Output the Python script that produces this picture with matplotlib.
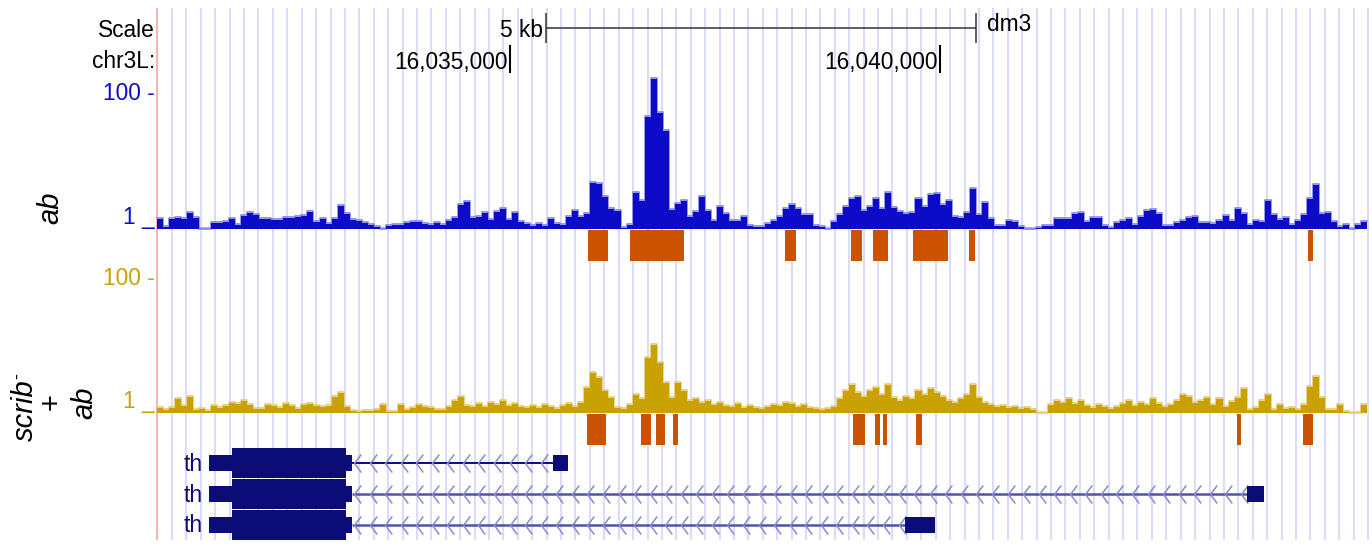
import numpy as np
import matplotlib
matplotlib.use('Agg')
import matplotlib.pyplot as plt

plt.rcParams['font.family'] = ['Liberation Sans', 'DejaVu Sans']

# dm3 chr3L window, 5 kb = 430 px in the browser image
bp_per_px = 5000 / 430
win_start = 16035000 - 510 * bp_per_px
win_end = win_start + 1372 * bp_per_px

ruler_ticks = [16035000, 16040000]
scale_bar = [16035419, 16040419]

# coverage tracks, fixed bins of 70 bp (display height, 0 = no data)
bin_start = 16030895
bin_bp = 70
ab_signal = [
    10, 2, 10, 11, 10, 16, 11, 0, 0, 6,
    6, 7, 10, 4, 13, 16, 14, 10, 10, 9,
    9, 11, 11, 12, 13, 17, 7, 10, 5, 10,
    23, 15, 9, 8, 6, 4, 2, 0, 3, 4,
    4, 6, 7, 7, 5, 4, 6, 4, 8, 11,
    24, 27, 11, 12, 16, 9, 17, 20, 9, 16,
    7, 5, 3, 5, 3, 10, 5, 4, 12, 18,
    12, 15, 46, 45, 32, 20, 18, 1, 4, 36,
    28, 112, 150, 116, 98, 19, 25, 28, 12, 17,
    32, 18, 8, 22, 15, 8, 8, 12, 3, 2,
    2, 5, 8, 12, 20, 24, 20, 14, 14, 3,
    2, 0, 7, 14, 22, 30, 32, 18, 22, 30,
    20, 36, 21, 17, 15, 16, 30, 22, 34, 35,
    24, 28, 12, 11, 16, 40, 14, 26, 10, 3,
    3, 8, 7, 2, 0, 0, 1, 3, 3, 10,
    10, 10, 15, 16, 7, 11, 11, 3, 1, 6,
    8, 10, 4, 12, 18, 19, 15, 3, 3, 6,
    8, 11, 12, 6, 6, 5, 8, 13, 8, 20,
    15, 4, 8, 7, 28, 14, 9, 11, 4, 8,
    14, 30, 44, 15, 16, 7, 2, 4, 0, 4,
    7,
]
scrib_ab_signal = [
    5, 3, 5, 14, 7, 16, 3, 4, 2, 7,
    5, 7, 10, 9, 12, 8, 4, 4, 8, 7,
    5, 9, 7, 4, 8, 9, 7, 6, 7, 16,
    20, 6, 2, 1, 2, 2, 3, 8, 1, 1,
    8, 3, 5, 8, 6, 5, 3, 3, 6, 12,
    16, 7, 6, 9, 6, 10, 8, 12, 7, 9,
    6, 5, 7, 5, 8, 6, 4, 7, 9, 6,
    10, 25, 40, 35, 22, 15, 5, 4, 8, 18,
    14, 55, 68, 50, 30, 15, 30, 22, 12, 14,
    10, 12, 8, 10, 7, 6, 9, 5, 7, 5,
    4, 6, 8, 7, 10, 9, 6, 8, 5, 4,
    3, 4, 6, 14, 22, 28, 20, 16, 22, 25,
    18, 28, 15, 12, 16, 14, 22, 18, 24, 20,
    16, 12, 10, 14, 18, 28, 15, 10, 8, 6,
    7, 5, 6, 4, 5, 3, 0, 0, 8, 12,
    10, 14, 9, 12, 7, 5, 8, 6, 4, 6,
    9, 12, 7, 10, 8, 14, 9, 6, 8, 12,
    18, 16, 10, 12, 15, 8, 14, 6, 11, 15,
    24, 3, 5, 12, 18, 3, 8, 4, 5, 3,
    8, 26, 36, 15, 3, 3, 8, 1, 0, 0,
    8,
]

# called peaks under each track
ab_peak_start = [16035907, 16036395, 16038198, 16038965, 16039221, 16039686, 16040337, 16044279]
ab_peak_end = [16036140, 16037023, 16038326, 16039093, 16039395, 16040093, 16040407, 16044337]
scrib_peak_start = [16035895, 16036523, 16036698, 16036895, 16038988, 16039244, 16039337,
                    16039721, 16043453, 16044221]
scrib_peak_end = [16036116, 16036640, 16036802, 16036953, 16039128, 16039302, 16039384,
                  16039791, 16043500, 16044337]

# th transcripts (minus strand)
tx_labels = ['th', 'th', 'th']
tx_first_exon = [(16031500, 16033163)] * 3
tx_cds = [(16031767, 16033093)] * 3
tx_last_exon = [(16035500, 16035674), (16043570, 16043767), (16039593, 16039942)]

W, H = 1372, 550
fig = plt.figure(figsize=(W / 100, H / 100), dpi=100)
ax = fig.add_axes([0, 0, 1, 1])
ax.set_xlim(win_start, win_end)
ax.set_ylim(H, 0)
ax.axis('off')


def gx(px):
    return win_start + px * bp_per_px


fs = 16.4

# guide lines
guides = np.arange(gx(172), win_end, 14.41 * bp_per_px)
ax.vlines(guides, 8, 540, color='#dcdcf8', lw=1.5, zorder=0)
ax.vlines(gx(157), 8, 540, color='#f7b4b4', lw=1.5, zorder=0)

# scale row
ax.text(gx(155), 37, 'Scale', ha='right', va='baseline', fontsize=fs)
ax.hlines(28, scale_bar[0], scale_bar[1], color='#333333', lw=1.1)
ax.vlines(scale_bar, 13, 43, color='#333333', lw=1.1)
ax.text(gx(543), 37, '5 kb', ha='right', va='baseline', fontsize=fs)
ax.text(gx(987), 31, 'dm3', ha='left', va='baseline', fontsize=fs)

# position row
ax.text(gx(155), 68, 'chr3L:', ha='right', va='baseline', fontsize=fs)
ax.vlines(ruler_ticks, 45, 73, color='black', lw=1.5)
for t in ruler_ticks:
    ax.text(t - 2 * bp_per_px, 69, f'{t:,}', ha='right', va='baseline', fontsize=fs)

# signal tracks
edges = bin_start + np.arange(len(ab_signal) + 1) * bin_bp
tracks = [
    (ab_signal, 229, 100, '#0b0bc8', '#8484e4', '#a4a4e6', ab_peak_start, ab_peak_end, '#0b0bc8'),
    (scrib_ab_signal, 413, 285, '#c9a100', '#e3cd6e', '#ead898', scrib_peak_start, scrib_peak_end, '#c9a100'),
]
for sig, base, top_lab, col, light, line_col, pk_s, pk_e, lab_col in tracks:
    vals = np.array(sig, dtype=float)
    ax.hlines(base - 1, edges[0], edges[-1], color=line_col, lw=1.3, zorder=1)
    yv = base - np.r_[vals, vals[-1]]
    ax.step(edges, np.where(np.r_[vals, vals[-1]] > 0, yv - 1.5, base), where='post',
            color=light, lw=1.2, zorder=2)
    ax.fill_between(edges, base, yv, step='post', color=col, lw=0, zorder=3)
    starts = np.array(pk_s)
    ends = np.array(pk_e)
    ax.bar(starts, 31, width=ends - starts, bottom=base + 1, align='edge', color='#cb5200', lw=0, zorder=3)
    ax.text(gx(155), top_lab, '100 -', ha='right', va='baseline', fontsize=fs, color=lab_col)
    ax.text(gx(155), base - 5, '1 _', ha='right', va='baseline', fontsize=fs, color=lab_col)

# track names
ax.text(gx(58), 208, 'ab', rotation=90, rotation_mode='anchor', ha='center', va='baseline',
        fontsize=21, style='italic')
ax.text(gx(33), 410, 'scrib', rotation=90, rotation_mode='anchor', ha='center', va='baseline',
        fontsize=21, style='italic')
ax.text(gx(22), 376, '-', rotation=90, rotation_mode='anchor', ha='center', va='baseline',
        fontsize=13)
ax.text(gx(60), 402, '+', rotation=90, rotation_mode='anchor', ha='center', va='baseline',
        fontsize=21)
ax.text(gx(92), 403, 'ab', rotation=90, rotation_mode='anchor', ha='center', va='baseline',
        fontsize=21, style='italic')

# gene track
navy = '#0c0c78'
row_y = [463, 494, 524.5]
line_cols = [navy, '#5252a2', '#5252a2']
chev = [(0.75, 1), (0, 0), (0.75, -1)]
for i, y in enumerate(row_y):
    e1, cds, e2 = tx_first_exon[i], tx_cds[i], tx_last_exon[i]
    ax.hlines(y, e1[1], e2[0], color=line_cols[i], lw=1.4 if i == 0 else 1.8, zorder=2)
    cx = np.arange(e1[1] + 2 * bp_per_px, e2[0] - 4 * bp_per_px, 15.56 * bp_per_px)
    ax.plot(cx, np.full(len(cx), y), ls='none', marker=chev, ms=13, mfc='none',
            mec='#8a8ad2', mew=1.1, zorder=2)
    ax.bar([e1[0], e2[0]], 16, width=[e1[1] - e1[0], e2[1] - e2[0]], bottom=y - 8,
           align='edge', color=navy, lw=0, zorder=3)
    ax.bar(cds[0], 30, width=cds[1] - cds[0], bottom=y - 15, align='edge', color=navy,
           lw=0, zorder=3)
    ax.text(gx(203), y + 8, tx_labels[i], ha='right', va='baseline', fontsize=fs, color=navy)

fig.savefig('out.png', dpi=100)
